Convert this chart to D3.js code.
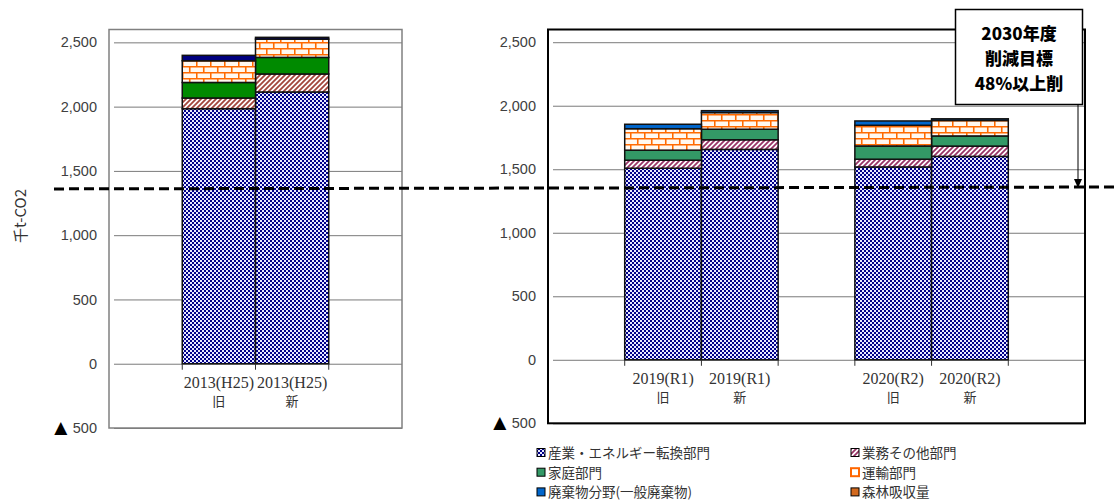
<!DOCTYPE html>
<html>
<head>
<meta charset="utf-8">
<script src="https://cdn.jsdelivr.net/npm/d3@7"></script>
<style>
  body { margin: 0; background: #fff; }
  svg { display: block; }
</style>
</head>
<body>
<div class="chart"></div>
<script>
// sectors (legend order)
let sectors = ['産業・エネルギー転換部門', '業務その他部門', '家庭部門', '運輸部門', '廃棄物分野(一般廃棄物)', '森林吸収量'];

// left panel: base year, right panel: recent years
let baseGroups = ['2013(H25)'];
let recentGroups = ['2019(R1)', '2020(R2)'];
let versions = ['旧', '新'];

// values in 千t-CO2, order: 2013旧, 2013新, 2019旧, 2019新, 2020旧, 2020新
let industry = [1984, 2114, 1508, 1656, 1518, 1601];
let business = [83, 140, 63, 76, 61, 81];
let household = [121, 129, 79, 83, 104, 80];
let transport = [169, 142, 169, 131, 163, 122];
let waste = [42, 14, 35, 15, 34, 13];
let forest = [0, 0, 0, 0, 0, 0];

let target = 1360;
let yTicks = [-500, 0, 500, 1000, 1500, 2000, 2500];
let noteLines = ['2030年度', '削減目標', '48%以上削'];

let series = [industry, business, household, transport, waste, forest];

let rows = [];
[...baseGroups, ...recentGroups].forEach((g, gi) => {
  versions.forEach((v, vi) => {
    let i = gi * 2 + vi;
    let row = { group: g, version: v };
    sectors.forEach((s, si) => { row[s] = series[si][i]; });
    rows.push(row);
  });
});

let stack = d3.stack().keys(sectors.slice(0, 5));

let svg = d3.select('.chart')
  .append('svg')
  .attr('width', 1118)
  .attr('height', 502);

let defs = svg.append('defs');

// checker pattern for industry
let pInd = defs.append('pattern')
  .attr('id', 'ind')
  .attr('patternUnits', 'userSpaceOnUse')
  .attr('width', 4).attr('height', 4);
pInd.append('rect').attr('width', 4).attr('height', 4).attr('fill', '#000088');
pInd.append('rect').attr('width', 2).attr('height', 2).attr('fill', '#e8e8ff');
pInd.append('rect').attr('x', 2).attr('y', 2).attr('width', 2).attr('height', 2).attr('fill', '#e8e8ff');

// hatch patterns for business
function hatch(id, color) {
  let p = defs.append('pattern')
    .attr('id', id)
    .attr('patternUnits', 'userSpaceOnUse')
    .attr('width', 5).attr('height', 5);
  p.append('rect').attr('width', 5).attr('height', 5).attr('fill', '#fff');
  p.append('path')
    .attr('d', 'M-1,1 l2,-2 M0,5 l5,-5 M4,6 l2,-2')
    .attr('stroke', color)
    .attr('stroke-width', 1.8);
}
hatch('bizL', '#a2453c');
hatch('bizR', '#993366');

// brick pattern for transport
let pBrick = defs.append('pattern')
  .attr('id', 'brick')
  .attr('patternUnits', 'userSpaceOnUse')
  .attr('width', 14).attr('height', 12);
pBrick.append('rect').attr('width', 14).attr('height', 12).attr('fill', '#fff8f0');
pBrick.append('path')
  .attr('d', 'M0,0.75 H14 M0,6.75 H14 M0.75,0 V6.75 M7.75,6.75 V12')
  .attr('stroke', '#ff6a00')
  .attr('stroke-width', 1.6)
  .attr('fill', 'none');

let leftColors = ['url(#ind)', 'url(#bizL)', '#008a00', 'url(#brick)', '#000080'];
let rightColors = ['url(#ind)', 'url(#bizR)', '#339966', 'url(#brick)', '#0066cc'];

let fmt = d3.format(',');

function panel(groups, data, box, colors, frameColor, frameWidth) {
  let y = d3.scaleLinear().domain([-500, 2600]).range([box.bottom, box.top]);
  let x0 = d3.scaleBand().domain(groups).range([box.left, box.right])
    .paddingInner(1 / 3).paddingOuter(1 / 3);
  let x1 = d3.scaleBand().domain(versions).range([0, x0.bandwidth()]);

  let g = svg.append('g');

  // gridlines with outward ticks
  g.append('g')
    .attr('transform', `translate(${box.left},0)`)
    .call(d3.axisLeft(y).tickValues(yTicks).tickSize(-(box.right - box.left)).tickSizeOuter(0).tickFormat(v => fmt(v)).tickPadding(12))
    .call(a => a.select('.domain').remove())
    .call(a => a.selectAll('.tick line').attr('stroke', '#7a7a7a').attr('x1', 5).attr('stroke-width', 1))
    .call(a => a.selectAll('.tick text')
      .attr('fill', '#404040')
      .attr('font-family', 'Liberation Sans, Noto Sans CJK JP')
      .attr('font-size', 14.5))
    .call(a => a.selectAll('.tick text')
      .filter(v => v < 0)
      .text(null)
      .call(t => t.append('tspan')
        .attr('font-size', 17)
        .attr('fill', '#000')
        .attr('font-family', 'DejaVu Sans')
        .text('▲ '))
      .call(t => t.append('tspan').text(v => fmt(-v))));

  let layers = stack(data);
  let xPos = d => x0(d.data.group) + x1(d.data.version);

  g.selectAll('.layer')
    .data(layers)
    .join('g')
    .attr('fill', (d, i) => colors[i])
    .selectAll('rect')
    .data(d => d.filter(p => p[1] - p[0] > 0))
    .join('rect')
    .attr('x', xPos)
    .attr('width', x1.bandwidth())
    .attr('y', d => y(d[1]))
    .attr('height', d => y(d[0]) - y(d[1]))
    .attr('stroke', '#111')
    .attr('stroke-width', 1.5);

  // category ticks below the zero line
  let edges = [];
  groups.forEach(gr => {
    versions.forEach(v => edges.push(x0(gr) + x1(v)));
    edges.push(x0(gr) + x0.bandwidth());
  });
  g.selectAll('.ctick')
    .data(edges)
    .join('line')
    .attr('x1', d => d).attr('x2', d => d)
    .attr('y1', y(0)).attr('y2', y(0) + 6)
    .attr('stroke', '#333')
    .attr('stroke-width', 1);

  // category labels
  let labels = [];
  groups.forEach(gr => versions.forEach(v => labels.push({ group: gr, version: v })));
  let lab = g.selectAll('.clab')
    .data(labels)
    .join('text')
    .attr('x', d => x0(d.group) + x1(d.version) + x1.bandwidth() / 2)
    .attr('text-anchor', 'middle')
    .attr('fill', '#333');
  lab.append('tspan')
    .attr('y', y(0) + 24)
    .attr('font-family', 'Liberation Serif')
    .attr('font-size', 16)
    .text(d => d.group);
  lab.append('tspan')
    .attr('x', d => x0(d.group) + x1(d.version) + x1.bandwidth() / 2)
    .attr('y', y(0) + 42)
    .attr('font-family', 'Noto Sans CJK JP')
    .attr('font-size', 13)
    .text(d => d.version);

  // plot frame
  g.append('rect')
    .attr('x', box.left).attr('y', box.top)
    .attr('width', box.right - box.left)
    .attr('height', box.bottom - box.top)
    .attr('fill', 'none')
    .attr('stroke', frameColor)
    .attr('stroke-width', frameWidth);

  return y;
}

let yL = panel(baseGroups, rows.slice(0, 2), { left: 109, right: 402, top: 29.5, bottom: 428 }, leftColors, '#808080', 1.5);
let yR = panel(recentGroups, rows.slice(2), { left: 548, right: 1085, top: 29.5, bottom: 423.3 }, rightColors, '#000', 2);

// y axis title
svg.append('text')
  .attr('transform', 'translate(26,216) rotate(-90)')
  .attr('text-anchor', 'middle')
  .attr('font-family', 'Noto Sans CJK JP')
  .attr('font-size', 15)
  .attr('fill', '#333')
  .text('千t-CO2');

// 2030 target dashed line
svg.append('line')
  .attr('x1', 54).attr('x2', 1118)
  .attr('y1', yL(target)).attr('y2', yR(target))
  .attr('stroke', '#000')
  .attr('stroke-width', 3)
  .attr('stroke-dasharray', '10,5');

// note box with arrow
let note = svg.append('g');
note.append('line')
  .attr('x1', 1078).attr('x2', 1078)
  .attr('y1', 104).attr('y2', yR(target) - 2)
  .attr('stroke', '#000').attr('stroke-width', 1);
note.append('path')
  .attr('d', `M1074,${yR(target) - 8} L1082,${yR(target) - 8} L1078,${yR(target) + 1} Z`)
  .attr('fill', '#000');
note.append('rect')
  .attr('x', 955.5).attr('y', 9.5)
  .attr('width', 127).attr('height', 95)
  .attr('fill', '#fff')
  .attr('stroke', '#000')
  .attr('stroke-width', 1.5);
note.selectAll('text')
  .data(noteLines)
  .join('text')
  .attr('x', 1019)
  .attr('y', (d, i) => 40 + i * 25)
  .attr('text-anchor', 'middle')
  .attr('font-family', 'Noto Sans CJK JP')
  .attr('font-weight', 900)
  .attr('font-size', 17)
  .attr('fill', '#000')
  .text(d => d);

// legend: two columns, three rows each
let legendFills = ['url(#ind)', 'url(#bizR)', '#339966', '#fff', '#0066cc', '#d2691e'];
let legendStroke = ['#000', '#000', '#000', '#ff6600', '#000', '#000'];
let legCols = [537, 851];
let legTop = 453;
let legStep = 19.7;
let legItems = sectors.map((s, i) => ({ name: s, i, col: i % 2, row: Math.floor(i / 2) }));
let leg = svg.append('g');
leg.selectAll('rect')
  .data(legItems)
  .join('rect')
  .attr('x', d => legCols[d.col])
  .attr('y', d => legTop + d.row * legStep - 4.5)
  .attr('width', 8).attr('height', 8)
  .attr('fill', d => legendFills[d.i])
  .attr('stroke', d => legendStroke[d.i])
  .attr('stroke-width', d => d.i === 3 ? 2 : 1);
leg.selectAll('text')
  .data(legItems)
  .join('text')
  .attr('x', d => legCols[d.col] + 11)
  .attr('y', d => legTop + d.row * legStep + 5)
  .attr('font-family', 'Noto Sans CJK JP')
  .attr('font-size', 13.5)
  .attr('fill', '#333')
  .text(d => d.name);
</script>
</body>
</html>
